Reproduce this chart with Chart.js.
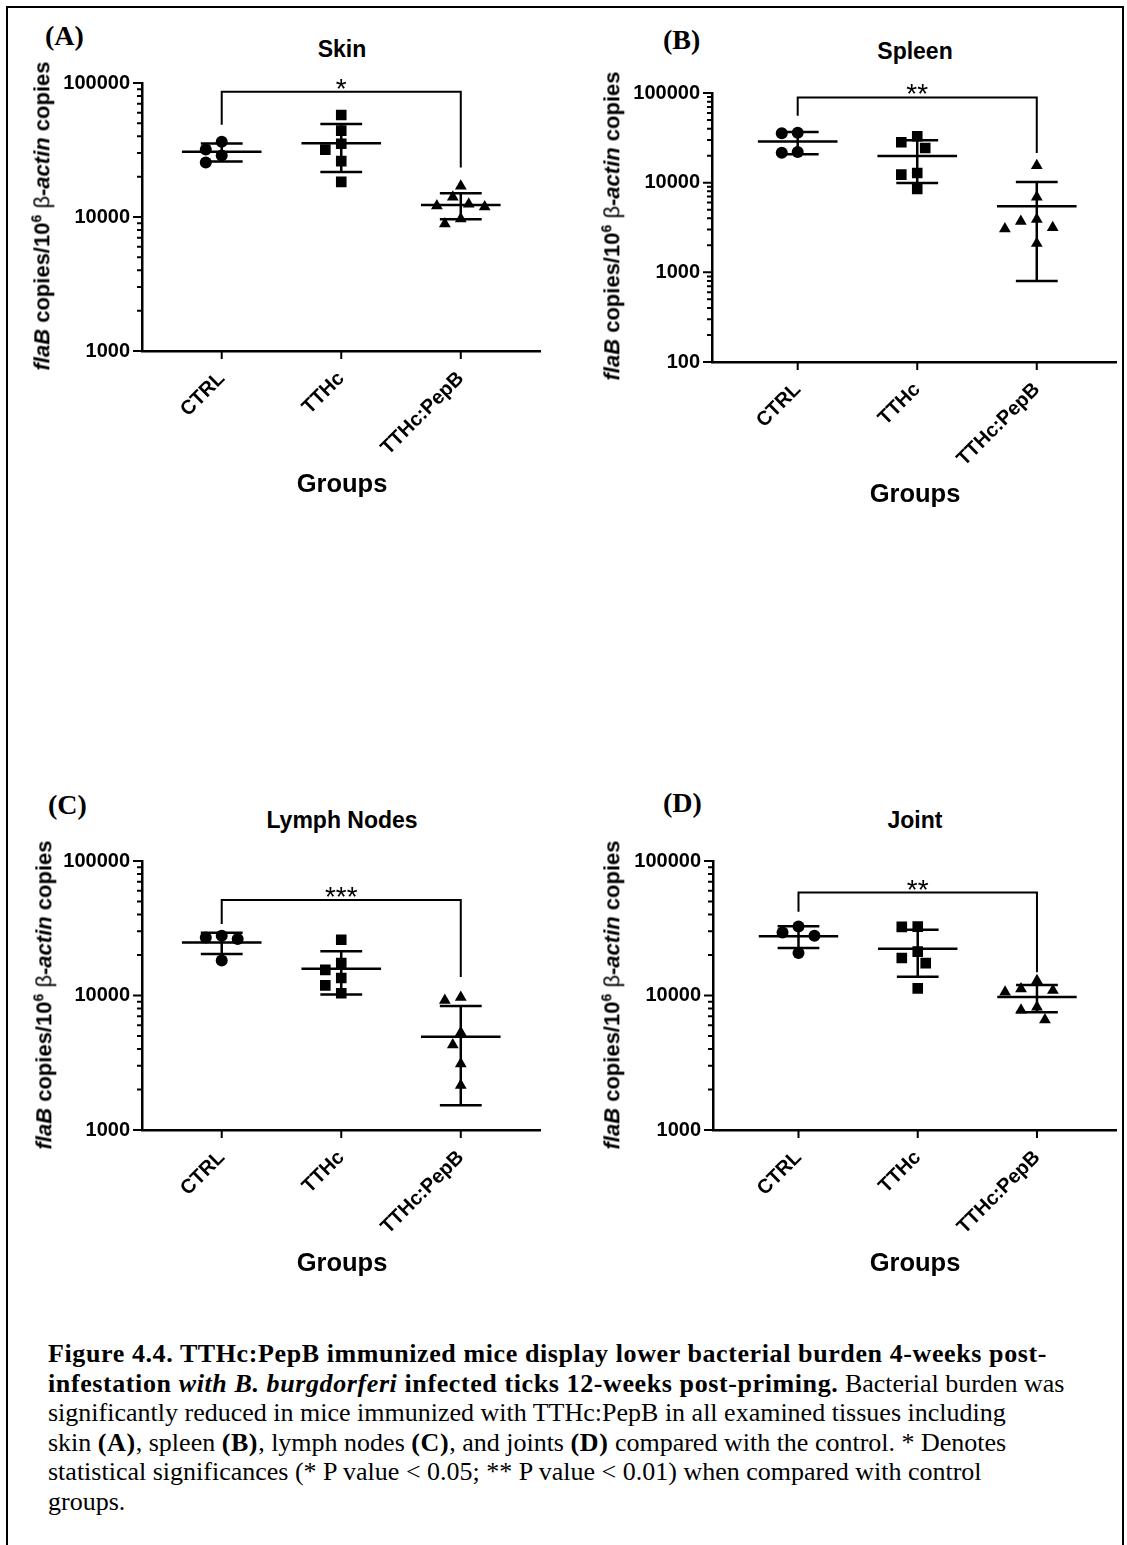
<!DOCTYPE html>
<html>
<head>
<meta charset="utf-8">
<script src="https://cdn.jsdelivr.net/npm/chart.js@4.4.0/dist/chart.umd.min.js"></script>
<style>
  body { margin: 0; background: #fff; }
  #page { position: relative; width: 1127px; height: 1545px; overflow: hidden; background: #fff; font-family: "Liberation Sans", Arial, sans-serif; color: #000; }
  .frame { position: absolute; left: 6px; top: 6px; width: 1114px; height: 1580px; border: 2px solid #000; }
  canvas { position: absolute; }
  .t { position: absolute; transform: translate(-50%, -50%); white-space: nowrap; font-weight: bold; }
  .lbl { position: absolute; transform: translate(0, -50%); font-family: "Liberation Serif", "Times New Roman", serif; font-weight: bold; font-size: 28px; }
  .title { font-size: 23px; }
  .groups { font-size: 25.5px; }
  .ytitle { font-size: 22px; transform: translate(-50%, -50%) rotate(-90deg); }
  .ytitle .beta { font-weight: normal; }
  .ytitle sup { font-size: 14px; }
  .caption { position: absolute; left: 48px; top: 1339px; font-family: "Liberation Serif", "Times New Roman", serif; font-size: 26px; line-height: 29.5px; }
  .caption div { white-space: nowrap; }
  .caption b { letter-spacing: 0.6px; }
</style>
</head>
<body>
<div id="page">
  <div class="frame"></div>

  <canvas id="skin"></canvas>
  <canvas id="spleen"></canvas>
  <canvas id="lymph"></canvas>
  <canvas id="joint"></canvas>

  <div class="lbl" style="left:45px; top:36px;">(A)</div>
  <div class="t title" style="left:342px; top:49px;">Skin</div>
  <div class="t groups" style="left:342px; top:483px;">Groups</div>
  <div class="t ytitle" style="left:42px; top:216px;"><i>flaB</i> copies/10<sup>6</sup> <span class="beta">β</span>-<i>actin</i> copies</div>

  <div class="lbl" style="left:663px; top:40px;">(B)</div>
  <div class="t title" style="left:915px; top:51px;">Spleen</div>
  <div class="t groups" style="left:915px; top:493px;">Groups</div>
  <div class="t ytitle" style="left:612px; top:226px;"><i>flaB</i> copies/10<sup>6</sup> <span class="beta">β</span>-<i>actin</i> copies</div>

  <div class="lbl" style="left:48px; top:805px;">(C)</div>
  <div class="t title" style="left:342px; top:820px;">Lymph Nodes</div>
  <div class="t groups" style="left:342px; top:1262px;">Groups</div>
  <div class="t ytitle" style="left:44px; top:995px;"><i>flaB</i> copies/10<sup>6</sup> <span class="beta">β</span>-<i>actin</i> copies</div>

  <div class="lbl" style="left:663px; top:803px;">(D)</div>
  <div class="t title" style="left:915px; top:820px;">Joint</div>
  <div class="t groups" style="left:915px; top:1262px;">Groups</div>
  <div class="t ytitle" style="left:612px; top:995px;"><i>flaB</i> copies/10<sup>6</sup> <span class="beta">β</span>-<i>actin</i> copies</div>

  <div class="caption">
    <div><b>Figure 4.4. TTHc:PepB immunized mice display lower bacterial burden 4-weeks post-</b></div>
    <div><b>infestation <i>with B. burgdorferi</i> infected ticks 12-weeks post-priming.</b> Bacterial burden was</div>
    <div>significantly reduced in mice immunized with TTHc:PepB in all examined tissues including</div>
    <div>skin <b>(A)</b>, spleen <b>(B)</b>, lymph nodes <b>(C)</b>, and joints <b>(D)</b> compared with the control. * Denotes</div>
    <div>statistical significances (* P value &lt; 0.05; ** P value &lt; 0.01) when compared with control</div>
    <div>groups.</div>
  </div>
</div>

<script>
// categories
const groups = ['CTRL', 'TTHc', 'TTHc:PepB'];

// flaB copies / 10^6 beta-actin copies, one array per group
const skinCtrl = [36500, 31900, 28800, 25500];
const skinTthc = [57700, 44100, 35200, 31800, 26100, 18300];
const skinPepb = [17000, 14100, 12500, 12100, 11900, 9700, 8900];

const spleenCtrl = [36000, 35500, 22000, 21600];
const spleenTthc = [32900, 28200, 24400, 12800, 12300, 8500];
const spleenPepb = [15500, 6900, 3900, 3700, 3150, 3050, 2100];

const lymphCtrl = [27800, 27000, 26300, 18200];
const lymphTthc = [26000, 17400, 15500, 13500, 11900, 10400];
const lymphPepb = [9700, 9200, 5300, 4300, 3100, 2150, 800];

const jointCtrl = [32600, 29400, 27800, 20700];
const jointTthc = [32500, 32400, 21200, 19000, 17400, 11300];
const jointPepb = [12900, 11200, 10900, 10600, 8200, 7800, 6600];

// y axis tick labels
const yTicksSkin = [1000, 10000, 100000];
const yTicksSpleen = [100, 1000, 10000, 100000];
const yTicksLymph = [1000, 10000, 100000];
const yTicksJoint = [1000, 10000, 100000];

// significance brackets: [top, left leg end, right leg end]
const bracketSkin = [86200, 48900, 23400];
const bracketSpleen = [89100, 55800, 21400];
const bracketLymph = [51400, 34000, 13700];
const bracketJoint = [58300, 41900, 14900];

const panels = [
    { id: 'skin', values: [skinCtrl, skinTthc, skinPepb], ticks: yTicksSkin, bracket: bracketSkin, star: '*',
      left: 142, top: 82, right: 542, bottom: 351, xMin: 0.333 },
    { id: 'spleen', values: [spleenCtrl, spleenTthc, spleenPepb], ticks: yTicksSpleen, bracket: bracketSpleen, star: '**',
      left: 712, top: 91.5, right: 1118, bottom: 361.5, xMin: 0.283 },
    { id: 'lymph', values: [lymphCtrl, lymphTthc, lymphPepb], ticks: yTicksLymph, bracket: bracketLymph, star: '***',
      left: 142, top: 860, right: 542, bottom: 1130, xMin: 0.333 },
    { id: 'joint', values: [jointCtrl, jointTthc, jointPepb], ticks: yTicksJoint, bracket: bracketJoint, star: '**',
      left: 713, top: 860, right: 1118, bottom: 1130, xMin: 0.283 }
];

const X_MAX = 3.667;
const Y_AXIS_W = 90;
const X_AXIS_H = 120;
const PAD_TOP = 14;
const PAD_RIGHT = 6;

// spread points sideways like a column scatter so they don't overlap
function swarm(values, pxPerUnit, pxPerDecade) {
    const order = values.map((v, i) => i).sort((a, b) => values[b] - values[a]);
    const placed = [];
    const offsets = values.map(() => 0);
    order.forEach(i => {
        const y = Math.log10(values[i]) * pxPerDecade;
        for (let k = 0; k < 30; k++) {
            const dx = (k % 2 ? -1 : 1) * Math.ceil(k / 2) * 8;
            if (placed.every(p => Math.hypot(p.x - dx, p.y - y) >= 13)) {
                placed.push({ x: dx, y: y });
                offsets[i] = dx / pxPerUnit;
                break;
            }
        }
    });
    return offsets;
}

function mean(a) {
    return a.reduce((s, v) => s + v, 0) / a.length;
}

function sd(a) {
    const m = mean(a);
    return Math.sqrt(a.reduce((s, v) => s + (v - m) * (v - m), 0) / (a.length - 1));
}

// mean line, SD whiskers, axis tick marks, bracket
const extras = {
    id: 'extras',
    afterDatasetsDraw(chart, args, opts) {
        const { ctx, chartArea } = chart;
        const x = chart.scales.x;
        const y = chart.scales.y;
        ctx.save();
        ctx.strokeStyle = '#000';
        ctx.lineCap = 'butt';

        // mean +/- SD
        ctx.lineWidth = 2.5;
        opts.values.forEach((vals, i) => {
            const m = mean(vals);
            const s = sd(vals);
            const cx = x.getPixelForValue(i + 1);
            const half = cx - x.getPixelForValue(i + 1 - 0.333);
            const cap = cx - x.getPixelForValue(i + 1 - 0.175);
            const yMean = y.getPixelForValue(m);
            const yHi = y.getPixelForValue(m + s);
            const yLo = Math.min(y.getPixelForValue(m - s), chartArea.bottom);
            ctx.beginPath();
            ctx.moveTo(cx - half, yMean); ctx.lineTo(cx + half, yMean);
            ctx.moveTo(cx, yHi); ctx.lineTo(cx, yLo);
            ctx.moveTo(cx - cap, yHi); ctx.lineTo(cx + cap, yHi);
            ctx.moveTo(cx - cap, yLo); ctx.lineTo(cx + cap, yLo);
            ctx.stroke();
        });

        // tick marks
        ctx.lineWidth = 2;
        ctx.beginPath();
        y.ticks.forEach(t => {
            const py = y.getPixelForValue(t.value);
            const len = opts.ticks.includes(t.value) ? 9 : 5;
            ctx.moveTo(chartArea.left - len, py); ctx.lineTo(chartArea.left, py);
        });
        x.ticks.forEach(t => {
            const px = x.getPixelForValue(t.value);
            ctx.moveTo(px, chartArea.bottom); ctx.lineTo(px, chartArea.bottom + 8);
        });
        ctx.stroke();

        // significance bracket
        const [top, legL, legR] = opts.bracket;
        const xl = x.getPixelForValue(1);
        const xr = x.getPixelForValue(3);
        const yt = y.getPixelForValue(top);
        ctx.lineWidth = 2;
        ctx.beginPath();
        ctx.moveTo(xl, y.getPixelForValue(legL));
        ctx.lineTo(xl, yt);
        ctx.lineTo(xr, yt);
        ctx.lineTo(xr, y.getPixelForValue(legR));
        ctx.stroke();
        ctx.fillStyle = '#000';
        ctx.font = '28px "Liberation Sans", Arial, sans-serif';
        ctx.textAlign = 'center';
        ctx.textBaseline = 'alphabetic';
        ctx.fillText(opts.star, (xl + xr) / 2, yt + 6);
        ctx.restore();
    }
};

panels.forEach(p => {
    const canvas = document.getElementById(p.id);
    canvas.width = Y_AXIS_W + (p.right - p.left) + PAD_RIGHT;
    canvas.height = PAD_TOP + (p.bottom - p.top) + X_AXIS_H;
    canvas.style.left = (p.left - Y_AXIS_W) + 'px';
    canvas.style.top = (p.top - PAD_TOP) + 'px';

    const yMin = p.ticks[0];
    const yMax = p.ticks[p.ticks.length - 1];
    const pxPerUnit = (p.right - p.left) / (X_MAX - p.xMin);
    const pxPerDecade = (p.bottom - p.top) / Math.log10(yMax / yMin);
    const styles = ['circle', 'rect', 'triangle'];
    const radii = [6, 7.5, 6.8];

    const datasets = p.values.map((vals, gi) => {
        const off = swarm(vals, pxPerUnit, pxPerDecade);
        return {
            label: groups[gi],
            data: vals.map((v, i) => ({ x: gi + 1 + off[i], y: v })),
            pointStyle: styles[gi],
            pointRadius: radii[gi],
            pointHoverRadius: radii[gi],
            backgroundColor: '#000',
            borderColor: '#000',
            pointBorderWidth: 0,
            clip: 0
        };
    });

    new Chart(canvas, {
        type: 'scatter',
        data: { datasets: datasets },
        options: {
            responsive: false,
            animation: false,
            layout: { padding: { top: PAD_TOP, right: PAD_RIGHT, left: 0, bottom: 0 } },
            scales: {
                x: {
                    type: 'linear',
                    min: p.xMin,
                    max: X_MAX,
                    afterBuildTicks: scale => {
                        scale.ticks = groups.map((g, i) => ({ value: i + 1 }));
                    },
                    afterFit: scale => { scale.height = X_AXIS_H; },
                    grid: { display: false, tickLength: 8 },
                    border: { display: true, color: '#000', width: 2.5 },
                    ticks: {
                        autoSkip: false,
                        minRotation: 45,
                        maxRotation: 45,
                        padding: 8,
                        color: '#000',
                        font: { family: '"Liberation Sans", Arial, sans-serif', size: 20, weight: 'bold' },
                        callback: value => groups[Math.round(value) - 1]
                    }
                },
                y: {
                    type: 'logarithmic',
                    min: yMin,
                    max: yMax,
                    afterBuildTicks: scale => {
                        const list = [];
                        for (let d = yMin; d < yMax; d *= 10) {
                            for (let k = 1; k < 10; k++) list.push({ value: d * k });
                        }
                        list.push({ value: yMax });
                        scale.ticks = list;
                    },
                    afterFit: scale => { scale.width = Y_AXIS_W; },
                    grid: { display: false, tickLength: 9 },
                    border: { display: true, color: '#000', width: 2.5 },
                    ticks: {
                        autoSkip: false,
                        padding: 3,
                        color: '#000',
                        font: { family: '"Liberation Sans", Arial, sans-serif', size: 20, weight: 'bold' },
                        callback: value => p.ticks.includes(value) ? String(value) : ''
                    }
                }
            },
            plugins: {
                legend: { display: false },
                tooltip: { enabled: false },
                extras: { values: p.values, ticks: p.ticks, bracket: p.bracket, star: p.star }
            }
        },
        plugins: [extras]
    });
});
</script>
</body>
</html>
